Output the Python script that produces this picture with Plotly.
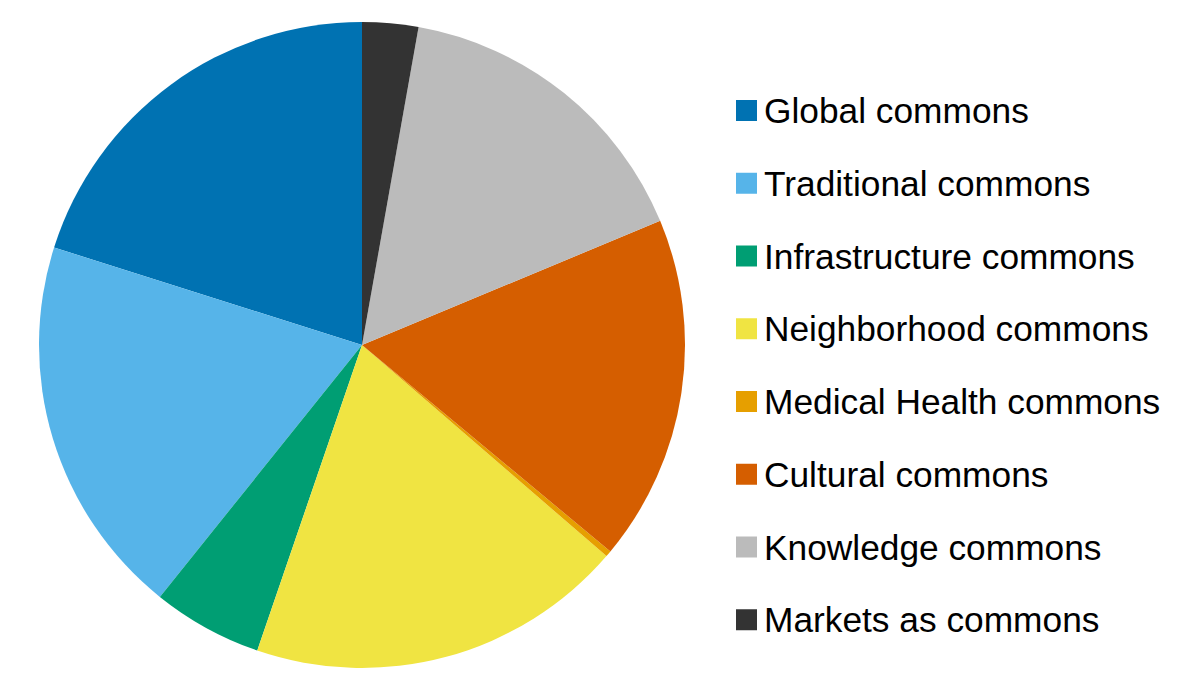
import plotly.graph_objects as go

categories = ["Global commons", "Traditional commons", "Infrastructure commons",
              "Neighborhood commons", "Medical Health commons", "Cultural commons",
              "Knowledge commons", "Markets as commons"]
values = [20.1, 19.1, 5.5, 18.9, 0.3, 17.3, 15.9, 2.8]
colors = ["#0072B2", "#56B4E9", "#009E73", "#F0E442", "#E69F00", "#D55E00",
          "#BBBBBB", "#333333"]

W, H = 1200, 693
OFF = 8  # page body margin
FONT = "Liberation Sans, Arial, sans-serif"


def px(x):
    return (x - OFF) / W


def py(y):
    return 1 - (y - OFF) / H


# plotly's counterclockwise mode ends the first slice at `rotation`;
# shift so the first slice starts at 12 o'clock
start_rot = -360.0 * values[0] / sum(values)

fig = go.Figure(go.Pie(
    labels=categories,
    values=values,
    marker=dict(colors=colors, line=dict(width=0)),
    sort=False,
    direction="counterclockwise",
    rotation=start_rot,
    textinfo="none",
    hoverinfo="label+value",
    showlegend=False,
    domain=dict(x=[px(38), px(686)], y=[py(668), py(22)]),
))

# Legend drawn as shapes + text annotations (layout decoration)
row0, gap = 110.5, 72.75
for i, (name, col) in enumerate(zip(categories, colors)):
    cy = row0 + gap * i
    fig.add_shape(type="rect", xref="paper", yref="paper",
                  x0=px(736), x1=px(757),
                  y0=py(cy + 10.5), y1=py(cy - 10.5),
                  fillcolor=col, line=dict(width=0))
    fig.add_annotation(text=name, xref="paper", yref="paper",
                       x=px(762), y=py(cy), xanchor="left", yanchor="middle",
                       showarrow=False, font=dict(family=FONT, size=35.3, color="#000000"))

fig.update_layout(
    width=W, height=H,
    margin=dict(l=0, r=0, t=0, b=0),
    paper_bgcolor="white", plot_bgcolor="white",
    font=dict(family=FONT),
)
fig.write_html("out.html")
